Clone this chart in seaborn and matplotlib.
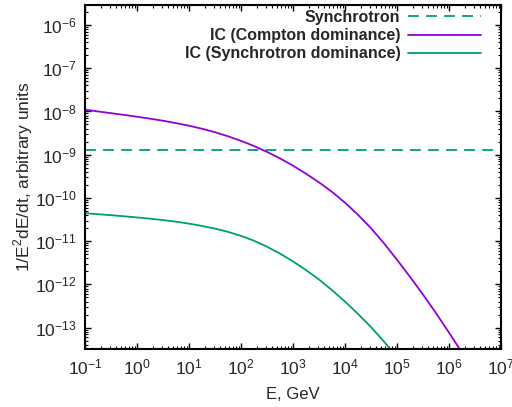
import numpy as np
import pandas as pd
import matplotlib
matplotlib.use("Agg")
import matplotlib.pyplot as plt
import seaborn as sns

# log10 of energy (GeV) at which the curves were read
logE_compton = [-1.0, -0.75, -0.5, -0.25, 0.0, 0.25, 0.5, 0.75, 1.0, 1.25, 1.5, 1.75,
                2.0, 2.25, 2.5, 2.75, 3.0, 3.25, 3.5, 3.75, 4.0, 4.25, 4.5, 4.75,
                5.0, 5.25, 5.5, 5.75, 6.0, 6.25, 6.5]
# log10 of 1/E^2 dE/dt, IC (Compton dominance)
logY_compton = [-7.96, -8.00, -8.04, -8.08, -8.122, -8.167, -8.215, -8.27, -8.33, -8.40,
                -8.48, -8.575, -8.68, -8.80, -8.935, -9.085, -9.254, -9.44, -9.64, -9.86,
                -10.11, -10.39, -10.70, -11.05, -11.43, -11.825, -12.235, -12.665, -13.115,
                -13.58, -14.05]
logE_syncdom = [-1.0, -0.75, -0.5, -0.25, 0.0, 0.25, 0.5, 0.75, 1.0, 1.25, 1.5, 1.75,
                2.0, 2.25, 2.5, 2.75, 3.0, 3.25, 3.5, 3.75, 4.0, 4.25, 4.5, 4.75, 5.0]
# log10 of 1/E^2 dE/dt, IC (Synchrotron dominance)
logY_syncdom = [-10.353, -10.377, -10.40, -10.425, -10.452, -10.48, -10.512, -10.55,
                 -10.595, -10.648, -10.71, -10.785, -10.878, -10.99, -11.128, -11.288,
                 -11.468, -11.668, -11.888, -12.133, -12.398, -12.683, -12.988, -13.323,
                 -13.688]
# Synchrotron (flat level)
E_syn = [0.1, 1e7]
syn = [1.3e-9, 1.3e-9]

labels = ["Synchrotron", "IC (Compton dominance)", "IC (Synchrotron dominance)"]
colors = ["#009E73", "#9400D3", "#009E73"]

sns.set_style("ticks")
plt.rcParams['font.family'] = ['Liberation Sans', 'DejaVu Sans']
plt.rcParams['mathtext.fontset'] = 'custom'
plt.rcParams['mathtext.rm'] = 'Liberation Sans'
plt.rcParams['axes.unicode_minus'] = False

fig = plt.figure(figsize=(5.12, 4.07), dpi=100)
ax = fig.add_axes([85/512, 1-349/407, (501-85)/512, (349-5)/407])

df_syn = pd.DataFrame({"E": E_syn, "v": syn})
df_c = pd.DataFrame({"E": 10.0 ** np.array(logE_compton), "v": 10.0 ** np.array(logY_compton)})
df_s = pd.DataFrame({"E": 10.0 ** np.array(logE_syncdom), "v": 10.0 ** np.array(logY_syncdom)})

sns.lineplot(data=df_syn, x="E", y="v", ax=ax, color=colors[0], lw=1.3, label=labels[0])
ax.lines[-1].set_dashes((6, 4))
sns.lineplot(data=df_c, x="E", y="v", ax=ax, color=colors[1], lw=1.3, label=labels[1])
sns.lineplot(data=df_s, x="E", y="v", ax=ax, color=colors[2], lw=1.3, label=labels[2])

ax.set_xscale("log")
ax.set_yscale("log")
ax.set_xlim(0.1, 1e7)
ax.set_ylim(3.2e-14, 2.9e-6)

ax.xaxis.set_major_locator(matplotlib.ticker.LogLocator(base=10, numticks=20))
ax.yaxis.set_major_locator(matplotlib.ticker.LogLocator(base=10, numticks=20))
ax.xaxis.set_minor_locator(matplotlib.ticker.LogLocator(base=10, subs=np.arange(2, 10), numticks=20))
ax.yaxis.set_minor_locator(matplotlib.ticker.LogLocator(base=10, subs=np.arange(2, 10), numticks=20))
ax.xaxis.set_minor_formatter(matplotlib.ticker.NullFormatter())
ax.yaxis.set_minor_formatter(matplotlib.ticker.NullFormatter())

ax.tick_params(which="both", direction="in", top=True, right=True, labelsize=12.5, color="black")
ax.tick_params(which="major", length=4.5, width=1.0, pad=6)
ax.tick_params(which="minor", length=2.3, width=0.8)
for s in ax.spines.values():
    s.set_linewidth(1.5)
    s.set_color("black")

ax.set_xlabel("E, GeV", fontsize=12, labelpad=7)
ax.set_ylabel("1/E$^2$dE/dt, arbitrary units", fontsize=12.5, labelpad=0)

leg = ax.legend(loc="upper right", bbox_to_anchor=(481/512, 1-10/407),
                bbox_transform=fig.transFigure, frameon=False, markerfirst=False,
                handlelength=4.6, handletextpad=0.45, borderpad=0, borderaxespad=0,
                labelspacing=0.2, prop={"weight": "bold", "size": 11.5})
for h in leg.get_lines():
    h.set_linewidth(1.3)

fig.savefig("out.png", dpi=100)
